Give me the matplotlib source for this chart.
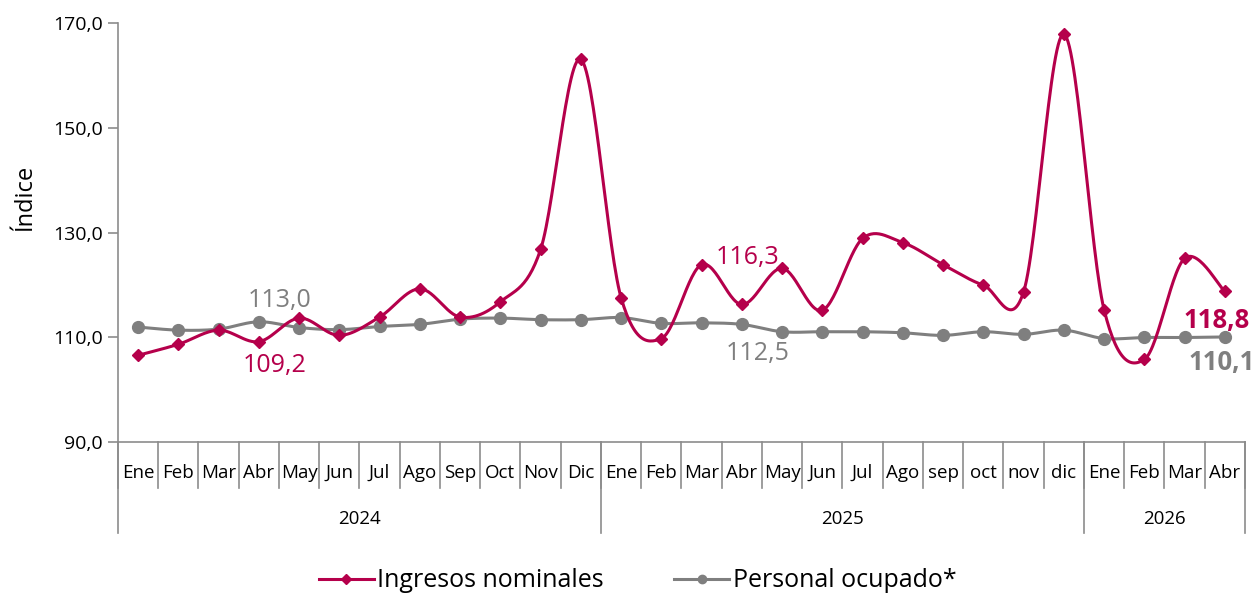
import numpy as np
import matplotlib.pyplot as plt
from matplotlib.lines import Line2D

plt.rcParams['font.family'] = ['Open Sans', 'DejaVu Sans']

# month labels and year groups
months = ['Ene', 'Feb', 'Mar', 'Abr', 'May', 'Jun', 'Jul', 'Ago', 'Sep', 'Oct', 'Nov', 'Dic',
          'Ene', 'Feb', 'Mar', 'Abr', 'May', 'Jun', 'Jul', 'Ago', 'sep', 'oct', 'nov', 'dic',
          'Ene', 'Feb', 'Mar', 'Abr']
years = ['2024', '2025', '2026']
year_len = [12, 12, 4]

ingresos = [106.6, 108.7, 111.4, 109.2, 113.7, 110.4, 113.9, 119.3, 113.9, 116.8, 126.8, 163.1,
            117.6, 109.8, 123.9, 116.3, 123.2, 115.2, 128.9, 128.1, 123.9, 120.0, 118.7, 167.9,
            115.3, 105.8, 125.1, 118.8]
personal = [112.0, 111.4, 111.6, 113.0, 111.9, 111.5, 112.1, 112.5, 113.5, 113.7, 113.4, 113.4,
            113.8, 112.7, 112.8, 112.5, 111.1, 111.1, 111.1, 110.9, 110.4, 111.1, 110.6, 111.4,
            109.8, 110.0, 110.0, 110.1]

red = '#B5004B'
grey = '#7F7F7F'
axcol = '#8C8C8C'


def smooth(x, y, n=30):
    # Excel-style smoothed line (Catmull-Rom as cubic Bezier)
    p = np.column_stack([x, y]).astype(float)
    p = np.vstack([p[0], p, p[-1]])
    out = []
    t = np.linspace(0, 1, n)[:, None]
    for i in range(1, len(p) - 2):
        p0, p1, p2, p3 = p[i - 1], p[i], p[i + 1], p[i + 2]
        c1 = p1 + (p2 - p0) / 6
        c2 = p2 - (p3 - p1) / 6
        seg = (1 - t) ** 3 * p1 + 3 * (1 - t) ** 2 * t * c1 + 3 * (1 - t) * t ** 2 * c2 + t ** 3 * p2
        out.append(seg)
    out = np.vstack(out)
    return out[:, 0], out[:, 1]


x = np.arange(len(months))

fig = plt.figure(figsize=(12.55, 5.96), dpi=100)
ax = fig.add_axes([0.094, 0.258, 0.898, 0.703])

sx, sy = smooth(x, ingresos)
ax.plot(sx, sy, color=red, lw=2.2, zorder=3)
ax.plot(x, ingresos, 'D', color=red, ms=6, zorder=4)
sx, sy = smooth(x, personal)
ax.plot(sx, sy, color=grey, lw=2.2, zorder=2)
ax.plot(x, personal, 'o', color=grey, ms=8.5, zorder=2)

ax.set_xlim(-0.5, len(months) - 0.5)
ax.set_ylim(90, 170)
ax.set_yticks([90, 110, 130, 150, 170])
ax.set_yticklabels([f'{v:.1f}'.replace('.', ',') for v in [90, 110, 130, 150, 170]], fontsize=14)
ax.tick_params(axis='y', length=7, color=axcol, width=1.2, pad=4)
ax.set_xticks([])
ax.set_ylabel('Índice', fontsize=17)
ax.yaxis.set_label_coords(-0.072, 0.585)
for s in ['top', 'right']:
    ax.spines[s].set_visible(False)
for s in ['left', 'bottom']:
    ax.spines[s].set_color(axcol)
    ax.spines[s].set_linewidth(1.2)

# data labels
ax.text(3.52, 117.1, '113,0', color=grey, fontsize=18, ha='center', va='center')
ax.text(3.38, 104.7, '109,2', color=red, fontsize=18, ha='center', va='center')
ax.text(15.13, 125.3, '116,3', color=red, fontsize=18, ha='center', va='center')
ax.text(15.38, 107.0, '112,5', color=grey, fontsize=18, ha='center', va='center')
ax.text(26.8, 113.3, '118,8', color=red, fontsize=18.5, ha='center', va='center', fontweight='bold')
ax.text(26.93, 105.3, '110,1', color=grey, fontsize=18.5, ha='center', va='center', fontweight='bold')

# multi-level category axis
tr = ax.get_xaxis_transform()
for i in range(len(months) + 1):
    ax.plot([i - 0.5, i - 0.5], [0, -0.11], color=axcol, lw=1.2, transform=tr, clip_on=False)
for i, m in enumerate(months):
    ax.text(i, -0.074, m, fontsize=13.5, ha='center', va='center', transform=tr)
start = 0
for yr, n in zip(years, year_len):
    ax.plot([start - 0.5, start - 0.5], [0, -0.217], color=axcol, lw=1.2, transform=tr, clip_on=False)
    ax.text(start + n / 2 - 0.5, -0.184, yr, fontsize=13.5, ha='center', va='center', transform=tr)
    start += n
ax.plot([start - 0.5, start - 0.5], [0, -0.217], color=axcol, lw=1.2, transform=tr, clip_on=False)

handles = [Line2D([], [], color=red, lw=2.2, marker='D', ms=5),
           Line2D([], [], color=grey, lw=2.2, marker='o', ms=6)]
ax.legend(handles, ['Ingresos nominales', 'Personal ocupado*'], loc='center',
          bbox_to_anchor=(0.461, -0.331), ncol=2, frameon=False, fontsize=18,
          handlelength=2.2, handletextpad=0.15, columnspacing=2.8)

fig.savefig('out.png', dpi=100)
